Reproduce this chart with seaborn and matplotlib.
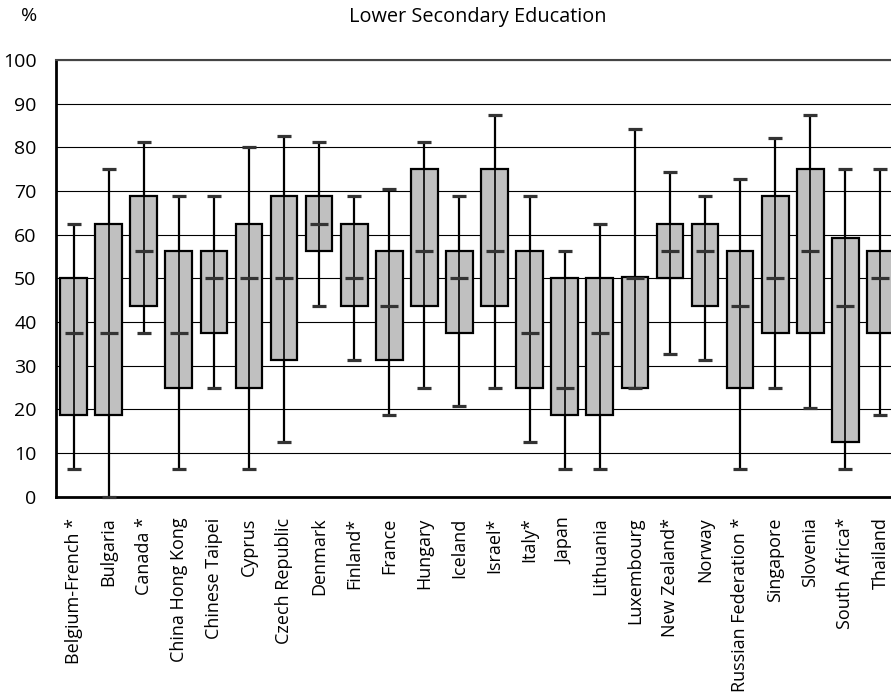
import numpy as np
import pandas as pd
import matplotlib
matplotlib.use("Agg")
import matplotlib.pyplot as plt
import seaborn as sns

# values (percent)
countries = [
    "Belgium-French *", "Bulgaria", "Canada *", "China Hong Kong", "Chinese Taipei",
    "Cyprus", "Czech Republic", "Denmark", "Finland*", "France", "Hungary", "Iceland",
    "Israel*", "Italy*", "Japan", "Lithuania", "Luxembourg", "New Zealand*", "Norway",
    "Russian Federation *", "Singapore", "Slovenia", "South Africa*", "Thailand",
]
whisker_low = [6.25, 0, 37.5, 6.25, 25, 6.25, 12.5, 43.75, 31.25, 18.75, 25, 20.8,
               25, 12.5, 6.25, 6.25, 25, 32.7, 31.25, 6.25, 25, 20.4, 6.25, 18.75]
q1 = [18.75, 18.75, 43.75, 25, 37.5, 25, 31.25, 56.25, 43.75, 31.25, 43.75, 37.5,
      43.75, 25, 18.75, 18.75, 25, 50, 43.75, 25, 37.5, 37.5, 12.5, 37.5]
median = [37.5, 37.5, 56.25, 37.5, 50, 50, 50, 62.5, 50, 43.75, 56.25, 50,
          56.25, 37.5, 25, 37.5, 50, 56.25, 56.25, 43.75, 50, 56.25, 43.75, 50]
q3 = [50, 62.5, 68.75, 56.25, 56.25, 62.5, 68.75, 68.75, 62.5, 56.25, 75, 56.25,
      75, 56.25, 50, 50, 50.4, 62.5, 62.5, 56.25, 68.75, 75, 59.2, 56.25]
whisker_high = [62.5, 75, 81.25, 68.75, 68.75, 80, 82.5, 81.25, 68.75, 70.5, 81.25, 68.75,
                87.5, 68.75, 56.25, 62.5, 84.3, 74.4, 68.75, 72.8, 82.2, 87.5, 75, 75]
y_ticks = list(range(0, 101, 10))

# five numbers per country -> with whis=(0, 100) the box stats equal these values
rows = []
for i, c in enumerate(countries):
    for v in (whisker_low[i], q1[i], median[i], q3[i], whisker_high[i]):
        rows.append({"country": c, "pct": v})
df = pd.DataFrame(rows)

sns.set_theme(style="white")
plt.rcParams["font.family"] = ["Open Sans", "DejaVu Sans"]
plt.rcParams["text.color"] = "black"
plt.rcParams["xtick.color"] = "black"
plt.rcParams["ytick.color"] = "black"

fig = plt.figure(figsize=(8.91, 6.94), dpi=100)
# plot area runs past the right edge, as in the reference
ax = fig.add_axes([56 / 891, (694 - 496.7) / 694, 842 / 891, 436.7 / 694])

sns.boxplot(data=df, x="country", y="pct", order=countries, whis=(0, 100),
            width=0.76, color="#C0C0C0", saturation=1, linecolor="black",
            linewidth=1.6, fliersize=0, showcaps=False,
            medianprops={"linewidth": 0}, ax=ax)

xpos = np.arange(len(countries))
ax.vlines(xpos, whisker_low, whisker_high, color="black", lw=1.2, zorder=3)
ax.scatter(xpos, median, marker="_", s=150, linewidths=2.3, color="#333333",
           zorder=4, clip_on=False)
ax.scatter(xpos, whisker_low, marker="_", s=90, linewidths=2.3, color="#333333",
           zorder=4, clip_on=False)
ax.scatter(xpos, whisker_high, marker="_", s=90, linewidths=2.3, color="#333333",
           zorder=4, clip_on=False)

ax.set_xlim(-0.5, len(countries) - 0.5)
ax.set_ylim(0, 100)
ax.set_yticks(y_ticks)
ax.yaxis.grid(True, color="black", lw=0.8)
ax.set_axisbelow(True)

ax.set_xticks(xpos)
ax.set_xticklabels(countries, rotation=90, fontsize=13)
ax.set_xticks(np.arange(-0.5, len(countries), 1), minor=True)
ax.tick_params(axis="x", which="major", length=0, pad=15)
ax.tick_params(axis="x", which="minor", length=6, width=1, direction="out")
ax.tick_params(axis="y", length=6, width=1, direction="out", labelsize=14, pad=8)
ax.set_xlabel("")
ax.set_ylabel("")

for side in ["left", "bottom"]:
    ax.spines[side].set_color("black")
    ax.spines[side].set_linewidth(2)
ax.spines["top"].set_color("#444444")
ax.spines["top"].set_linewidth(1.5)
ax.spines["right"].set_visible(False)

fig.text(29 / 891, 1 - 16 / 694, "%", ha="center", va="center", fontsize=14)
fig.text(478 / 891, 1 - 17 / 694, "Lower Secondary Education", ha="center",
         va="center", fontsize=14.3)

fig.savefig("out.png", dpi=100)
